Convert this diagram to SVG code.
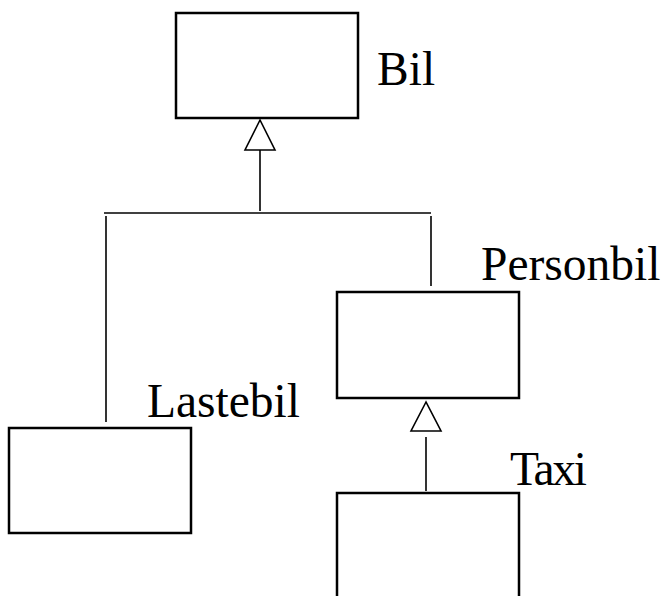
<svg xmlns="http://www.w3.org/2000/svg" width="665" height="596" viewBox="0 0 665 596">
<style>
.box{fill:#fff;stroke:#000;stroke-width:2.5}
.ln{fill:none;stroke:#000;stroke-width:1.6}
.tri{fill:#fff;stroke:#000;stroke-width:1.6}
.lbl{font-family:"Liberation Serif","Times New Roman",Times,serif;font-size:47.5px;fill:#000}
</style>
<rect width="665" height="596" fill="#fff"/>
<g id="connectors">
<polygon class="tri" points="260,120 245,150 275,150"/>
<line class="ln" x1="260" y1="150" x2="260" y2="211"/>
<line class="ln" x1="104" y1="213" x2="431" y2="213"/>
<line class="ln" x1="106" y1="216" x2="106" y2="422"/>
<line class="ln" x1="431" y1="216" x2="431" y2="286"/>
<polygon class="tri" points="426,402 411,431 441,431"/>
<line class="ln" x1="426" y1="437" x2="426" y2="491"/>
</g>
<g id="bil">
<rect class="box" x="176" y="13" width="182" height="105"/>
<text class="lbl" x="377" y="85">Bil</text>
</g>
<g id="personbil">
<rect class="box" x="337" y="292" width="182" height="106"/>
<text class="lbl" x="481" y="280">Personbil</text>
</g>
<g id="lastebil">
<rect class="box" x="9" y="428" width="182" height="105"/>
<text class="lbl" x="147" y="417">Lastebil</text>
</g>
<g id="taxi">
<path class="box" d="M337,600 V493 H519 V600"/>
<text class="lbl" x="510" y="485" textLength="77" lengthAdjust="spacing">Taxi</text>
</g>
</svg>
